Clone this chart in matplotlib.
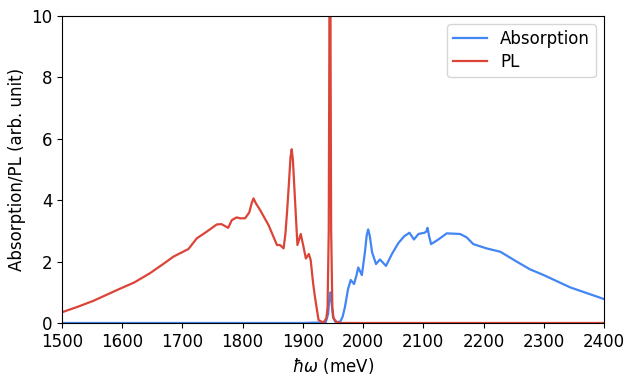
import matplotlib.pyplot as plt

# absorption spectrum (meV, arb. unit)
abs_energy = [1500, 1900, 1938, 1942, 1944, 1946, 1948, 1950, 1954, 1962, 1966, 1970,
              1975, 1979.5, 1985, 1989, 1992, 1998, 2003, 2006, 2008.5, 2011, 2015,
              2021.5, 2028, 2038, 2048, 2058.5, 2068, 2077, 2084.5, 2092, 2102, 2105,
              2107, 2110, 2113, 2125, 2139, 2161, 2172, 2183, 2205, 2228, 2255, 2277,
              2300, 2344, 2400]
abs_signal = [0.0, 0.0, 0.02, 0.3, 0.8, 1.0, 0.6, 0.2, 0.03, 0.04, 0.2, 0.53,
              1.1, 1.4, 1.27, 1.55, 1.81, 1.56, 2.3, 2.85, 3.05, 2.85, 2.3,
              1.92, 2.07, 1.86, 2.25, 2.6, 2.82, 2.94, 2.72, 2.9, 2.94, 2.98,
              3.1, 2.8, 2.57, 2.72, 2.92, 2.9, 2.79, 2.57, 2.43, 2.32, 2.0, 1.75,
              1.56, 1.16, 0.78]

# photoluminescence spectrum
pl_energy = [1500, 1525, 1552, 1591, 1620, 1646, 1668, 1685, 1710, 1724, 1740, 1757,
             1765, 1776, 1782, 1790, 1796, 1804, 1811, 1815, 1818, 1822, 1829, 1843,
             1857, 1862, 1868, 1871, 1874, 1877, 1879.5, 1881.5, 1883.5, 1887, 1891,
             1896.5, 1901, 1905, 1910, 1913, 1917, 1920, 1926, 1934, 1939, 1941,
             1943, 1944, 1945, 1946, 1947, 1949, 1951, 1956, 1965, 2400]
pl_signal = [0.35, 0.52, 0.72, 1.07, 1.32, 1.62, 1.92, 2.16, 2.41, 2.76, 2.97, 3.21,
             3.22, 3.1, 3.35, 3.44, 3.41, 3.41, 3.6, 3.9, 4.06, 3.9, 3.68, 3.19,
             2.54, 2.54, 2.43, 2.9, 3.68, 4.6, 5.4, 5.66, 5.3, 4.0, 2.54,
             2.9, 2.49, 2.1, 2.25, 2.05, 1.3, 0.86, 0.1, 0.01, 0.15, 0.5,
             3.0, 9.0, 30.0, 9.0, 3.0, 0.5, 0.15, 0.03, 0.0, 0.0]

plt.rcParams['font.size'] = 12

fig = plt.figure(figsize=(6.35, 3.82), dpi=100)
ax = fig.add_axes([0.0976, 0.1545, 0.8535, 0.8035])

ax.plot(abs_energy, abs_signal, color='#4285F4', lw=1.6, label='Absorption')
ax.plot(pl_energy, pl_signal, color='#DB4437', lw=1.6, label='PL')

ax.set_xlim(1500, 2400)
ax.set_ylim(0, 10)
ax.set_xlabel(r'$\hbar\omega$ (meV)')
ax.set_ylabel('Absorption/PL (arb. unit)')
ax.legend(loc='upper right', labelspacing=0.3, borderpad=0.35)

fig.savefig('out.png', dpi=100)
